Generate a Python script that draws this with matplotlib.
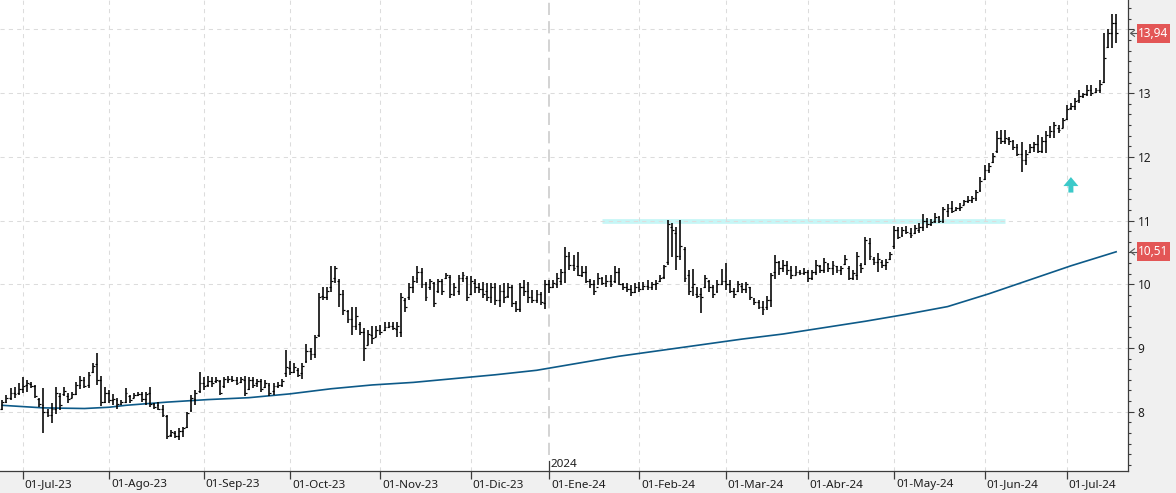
import numpy as np
import pandas as pd
import matplotlib
matplotlib.use("Agg")
import matplotlib.pyplot as plt
import matplotlib.transforms as mtransforms
from matplotlib.ticker import MultipleLocator, FixedLocator
from matplotlib.patches import Rectangle, Polygon
from matplotlib.lines import Line2D

plt.rcParams['font.family'] = ['Noto Sans', 'DejaVu Sans']

# ---------------- data ----------------
highs = [8.18, 8.26, 8.37, 8.39, 8.45, 8.55, 8.50, 8.47, 8.42, 8.21,
         8.37, 8.05, 8.13, 8.39, 8.29, 8.38, 8.29, 8.31, 8.47, 8.56,
         8.55, 8.63, 8.77, 8.92, 8.56, 8.39, 8.34, 8.28, 8.21, 8.19,
         8.37, 8.26, 8.29, 8.31, 8.31, 8.31, 8.39, 8.13, 8.16, 8.10,
         7.95, 7.71, 7.69, 7.74, 7.76, 8.00, 8.26, 8.34, 8.63, 8.55,
         8.56, 8.55, 8.55, 8.50, 8.55, 8.56, 8.56, 8.55, 8.55, 8.56,
         8.55, 8.55, 8.52, 8.51, 8.50, 8.45, 8.45, 8.47, 8.51, 8.97,
         8.79, 8.76, 8.68, 8.76, 9.07, 9.00, 9.21, 9.86, 9.95, 9.96,
         10.28, 10.28, 10.08, 9.91, 9.60, 9.65, 9.65, 9.41, 9.31, 9.28,
         9.34, 9.34, 9.36, 9.41, 9.41, 9.41, 9.41,
         9.86, 9.78, 10.02, 10.13, 10.29, 10.25, 10.04, 10.09, 10.04, 10.09,
         10.09, 10.18, 10.15, 10.02, 10.15, 10.20, 10.13, 10.13, 10.09, 10.02,
         10.04, 10.02, 10.02, 10.02, 9.99, 10.02, 10.02, 9.99, 9.73, 10.02,
         10.07, 10.04, 9.91, 9.91, 9.88, 10.07, 10.07, 10.07, 10.17, 10.24,
         10.59, 10.51, 10.46, 10.51, 10.28, 10.28, 10.09, 10.07, 10.17, 10.12,
         10.15, 10.15, 10.28, 10.25, 10.02, 10.02, 9.99, 10.02, 10.04, 10.04,
         10.07, 10.04, 10.07, 10.15, 10.30,
         11.01, 10.96, 10.90, 11.01, 10.59, 10.22,
         10.24, 9.95, 9.94, 10.15, 10.07, 9.99, 10.07, 10.24, 10.33, 10.07,
         9.94, 10.05, 10.02, 10.04, 9.96, 9.78, 9.75, 9.73, 9.81, 10.18,
         10.46, 10.36, 10.38, 10.36, 10.28, 10.28, 10.23, 10.25, 10.23, 10.23,
         10.38, 10.30, 10.41, 10.33, 10.36, 10.28, 10.28, 10.46, 10.28, 10.23,
         10.51, 10.33, 10.75, 10.72, 10.43, 10.49, 10.38, 10.39, 10.51, 10.91,
         10.90,
         10.90, 10.91, 10.88, 10.93, 10.96, 11.10, 11.04, 11.02, 11.12, 11.07,
         11.22, 11.26, 11.30, 11.22, 11.27, 11.32, 11.38, 11.39, 11.48, 11.68,
         11.87, 11.90, 12.06, 12.40, 12.42, 12.42, 12.32, 12.27, 12.21, 12.24,
         12.11, 12.21, 12.24, 12.35, 12.32, 12.40,
         12.48, 12.55, 12.50, 12.61, 12.82, 12.84, 12.92, 13.05, 13.00, 13.13,
         13.13, 13.08, 13.21, 13.94, 14.00, 14.24, 14.24]

lows = [8.03, 8.13, 8.18, 8.21, 8.26, 8.29, 8.31, 8.37, 8.21, 8.08,
        7.66, 7.92, 7.83, 7.97, 8.03, 8.24, 8.13, 8.21, 8.26, 8.35,
        8.37, 8.37, 8.60, 8.42, 8.09, 8.13, 8.13, 8.10, 8.05, 8.10,
        8.13, 8.13, 8.21, 8.24, 8.16, 8.10, 8.08, 8.05, 8.03, 7.92,
        7.57, 7.61, 7.58, 7.55, 7.61, 7.74, 8.00, 8.10, 8.29, 8.34,
        8.39, 8.39, 8.45, 8.26, 8.37, 8.45, 8.47, 8.42, 8.45, 8.24,
        8.34, 8.37, 8.39, 8.31, 8.37, 8.25, 8.26, 8.37, 8.39, 8.55,
        8.58, 8.60, 8.55, 8.52, 8.76, 8.81, 8.84, 9.18, 9.75, 9.75,
        9.88, 10.02, 9.65, 9.52, 9.39, 9.20, 9.28, 9.20, 8.79, 9.05,
        9.07, 9.18, 9.20, 9.26, 9.31, 9.29, 9.18,
        9.18, 9.57, 9.75, 9.86, 10.02, 9.94, 9.73, 9.91, 9.65, 9.86,
        9.83, 10.08, 9.78, 9.81, 9.83, 10.04, 9.73, 9.83, 9.86, 9.86,
        9.78, 9.73, 9.70, 9.68, 9.65, 9.70, 9.78, 9.65, 9.57, 9.57,
        9.81, 9.70, 9.70, 9.70, 9.68, 9.62, 9.86, 9.94, 9.94, 9.99,
        10.02, 10.23, 10.21, 10.13, 10.12, 10.02, 9.94, 9.83, 9.99, 9.99,
        9.96, 9.96, 10.02, 9.99, 9.91, 9.88, 9.81, 9.86, 9.88, 9.91,
        9.91, 9.91, 9.91, 10.04, 10.09,
        10.30, 10.43, 10.22, 10.38, 10.04, 9.83,
        9.81, 9.78, 9.55, 9.94, 9.88, 9.78, 9.86, 9.99, 9.91, 9.86,
        9.78, 9.88, 9.86, 9.86, 9.75, 9.68, 9.62, 9.52, 9.60, 9.65,
        10.09, 10.15, 10.20, 10.15, 10.09, 10.15, 10.15, 10.15, 10.04, 10.07,
        10.15, 10.17, 10.17, 10.20, 10.15, 10.17, 10.15, 10.30, 10.07, 10.07,
        10.07, 10.17, 10.30, 10.38, 10.30, 10.20, 10.25, 10.23, 10.38, 10.55,
        10.71,
        10.75, 10.79, 10.72, 10.79, 10.81, 10.83, 10.88, 10.91, 10.96, 10.96,
        10.96, 11.06, 11.12, 11.15, 11.15, 11.25, 11.27, 11.27, 11.30, 11.45,
        11.64, 11.74, 11.90, 12.06, 12.21, 12.21, 12.19, 12.11, 12.01, 11.77,
        11.87, 12.06, 12.08, 12.06, 12.06, 12.06,
        12.29, 12.29, 12.38, 12.45, 12.58, 12.74, 12.74, 12.84, 12.92, 12.95,
        12.95, 13.00, 13.00, 13.16, 13.71, 13.71, 13.79]

opens = [8.05, 8.15, 8.22, 8.30, 8.30, 8.35, 8.42, 8.43, 8.40, 8.20,
         8.10, 8.00, 7.95, 8.05, 8.25, 8.28, 8.25, 8.22, 8.28, 8.42,
         8.50, 8.42, 8.62, 8.75, 8.50, 8.15, 8.30, 8.18, 8.18, 8.12,
         8.15, 8.25, 8.22, 8.26, 8.28, 8.20, 8.30, 8.12, 8.10, 8.05,
         7.93, 7.63, 7.66, 7.62, 7.70, 7.76, 8.02, 8.20, 8.32, 8.45,
         8.42, 8.48, 8.48, 8.48, 8.40, 8.50, 8.52, 8.50, 8.46, 8.50,
         8.35, 8.50, 8.45, 8.48, 8.38, 8.42, 8.32, 8.40, 8.42, 8.60,
         8.68, 8.62, 8.65, 8.60, 8.80, 8.95, 8.90, 9.20, 9.82, 9.80,
         9.95, 10.10, 10.05, 9.85, 9.58, 9.45, 9.35, 9.38, 9.25, 9.05,
         9.20, 9.18, 9.28, 9.28, 9.33, 9.35, 9.30,
         9.25, 9.75, 9.80, 9.95, 10.10, 10.20, 10.00, 9.95, 10.02, 9.90,
         10.05, 10.10, 10.12, 9.85, 9.90, 10.10, 10.10, 9.85, 10.02, 9.95,
         9.92, 9.90, 9.80, 9.95, 9.75, 9.90, 9.82, 9.95, 9.70, 9.62,
         9.95, 9.90, 9.80, 9.75, 9.85, 9.70, 10.00, 9.96, 10.00, 10.05,
         10.20, 10.45, 10.30, 10.28, 10.15, 10.20, 10.05, 10.00, 9.95, 10.10,
         10.02, 10.05, 10.05, 10.20, 10.00, 9.95, 9.92, 9.88, 9.95, 9.92,
         9.98, 9.95, 10.00, 10.05, 10.12,
         10.35, 10.90, 10.80, 10.45, 10.55, 10.15,
         9.95, 9.85, 9.85, 9.95, 10.05, 9.95, 9.90, 10.00, 10.05, 10.00,
         9.90, 9.90, 9.98, 9.92, 9.95, 9.75, 9.72, 9.65, 9.65, 9.75,
         10.20, 10.35, 10.25, 10.30, 10.22, 10.15, 10.20, 10.18, 10.20, 10.10,
         10.20, 10.28, 10.22, 10.32, 10.25, 10.28, 10.22, 10.32, 10.25, 10.10,
         10.15, 10.30, 10.32, 10.65, 10.40, 10.35, 10.35, 10.30, 10.40, 10.60,
         10.85,
         10.78, 10.85, 10.80, 10.80, 10.85, 10.90, 11.00, 10.95, 11.00, 11.05,
         11.00, 11.15, 11.20, 11.16, 11.20, 11.25, 11.30, 11.32, 11.35, 11.48,
         11.65, 11.80, 11.92, 12.10, 12.30, 12.25, 12.28, 12.25, 12.15, 12.05,
         11.95, 12.08, 12.15, 12.20, 12.10, 12.25,
         12.35, 12.40, 12.45, 12.45, 12.60, 12.76, 12.80, 12.90, 12.95, 12.98,
         13.05, 13.02, 13.05, 13.18, 13.72, 13.95, 14.10]

closes = [8.15, 8.22, 8.30, 8.28, 8.35, 8.40, 8.45, 8.40, 8.25, 8.12,
          8.00, 7.95, 8.05, 8.30, 8.10, 8.33, 8.20, 8.28, 8.42, 8.50,
          8.40, 8.58, 8.72, 8.50, 8.15, 8.30, 8.18, 8.20, 8.12, 8.15,
          8.30, 8.18, 8.26, 8.28, 8.20, 8.28, 8.12, 8.08, 8.05, 7.95,
          7.62, 7.68, 7.62, 7.70, 7.74, 7.98, 8.22, 8.30, 8.45, 8.40,
          8.48, 8.45, 8.50, 8.30, 8.52, 8.52, 8.50, 8.45, 8.52, 8.30,
          8.50, 8.42, 8.48, 8.35, 8.45, 8.30, 8.40, 8.42, 8.48, 8.70,
          8.62, 8.70, 8.58, 8.72, 8.95, 8.90, 9.18, 9.80, 9.80, 9.90,
          10.05, 10.25, 9.85, 9.60, 9.45, 9.35, 9.50, 9.25, 9.00, 9.22,
          9.15, 9.28, 9.25, 9.33, 9.35, 9.32, 9.35,
          9.80, 9.65, 9.95, 10.05, 10.20, 10.00, 9.80, 10.05, 9.70, 10.05,
          9.90, 10.15, 9.85, 9.95, 10.10, 10.15, 9.80, 10.05, 9.95, 9.92,
          9.85, 9.80, 9.95, 9.75, 9.90, 9.80, 9.95, 9.70, 9.62, 9.95,
          9.90, 9.80, 9.75, 9.85, 9.72, 10.00, 9.95, 10.02, 10.10, 10.20,
          10.45, 10.30, 10.25, 10.15, 10.20, 10.05, 10.00, 9.90, 10.10, 10.02,
          10.05, 10.00, 10.20, 10.00, 9.95, 9.92, 9.88, 9.95, 9.92, 9.98,
          9.95, 10.00, 10.02, 10.10, 10.28,
          10.95, 10.85, 10.45, 10.60, 10.10, 9.90,
          10.00, 9.82, 9.80, 10.10, 9.95, 9.85, 10.00, 10.05, 10.00, 9.90,
          9.85, 10.00, 9.92, 10.00, 9.80, 9.72, 9.65, 9.62, 9.75, 10.15,
          10.35, 10.25, 10.30, 10.22, 10.15, 10.20, 10.18, 10.20, 10.10, 10.20,
          10.30, 10.22, 10.35, 10.25, 10.30, 10.22, 10.25, 10.40, 10.10, 10.18,
          10.45, 10.25, 10.70, 10.45, 10.35, 10.40, 10.30, 10.35, 10.48, 10.85,
          10.75,
          10.85, 10.82, 10.78, 10.88, 10.90, 11.00, 10.95, 10.98, 11.05, 11.00,
          11.18, 11.20, 11.15, 11.20, 11.22, 11.30, 11.32, 11.35, 11.45, 11.62,
          11.80, 11.85, 12.02, 12.30, 12.25, 12.30, 12.25, 12.15, 12.05, 11.95,
          12.05, 12.15, 12.20, 12.10, 12.25, 12.35,
          12.40, 12.50, 12.42, 12.58, 12.75, 12.80, 12.88, 12.95, 12.98, 13.05,
          13.00, 13.05, 13.15, 13.55, 13.95, 14.10, 13.94]

# long moving average, read at selected bars
ma_bars = [0, 10, 20, 26, 30, 40, 50, 60, 70, 80, 90, 100, 110, 120, 130,
           140, 150, 160, 170, 180, 190, 200, 210, 220, 230, 240, 250, 260, 271]
ma_vals = [8.10, 8.06, 8.05, 8.07, 8.10, 8.15, 8.19, 8.22, 8.28, 8.36, 8.42,
           8.46, 8.52, 8.58, 8.65, 8.76, 8.87, 8.96, 9.05, 9.14, 9.22, 9.32,
           9.42, 9.53, 9.65, 9.85, 10.07, 10.29, 10.51]

last_price = 13.94
last_ma = 10.51
resistance_level = 11.0
resistance_from, resistance_to = 146, 244
signal_bar, signal_level = 260, 11.44

y_ticks = [8, 9, 10, 11, 12, 13, 14]
y_tick_labels = ['8', '9', '10', '11', '12', '13', '']

month_abbr = ['Ene', 'Feb', 'Mar', 'Abr', 'May', 'Jun', 'Jul', 'Ago',
              'Sep', 'Oct', 'Nov', 'Dic']
holidays = ['2023-12-25', '2023-12-26', '2024-01-01', '2024-03-29',
            '2024-04-01', '2024-05-01']

# ---------------- calendar ----------------
n = len(highs)
days = pd.bdate_range('2023-06-26', '2024-09-30')
days = days[~days.isin(pd.to_datetime(holidays))][:n]
x = np.arange(n)

month_pos, month_lab = [], []
for i in range(1, n):
    if days[i].month != days[i - 1].month:
        month_pos.append(i)
        month_lab.append('01-%s-%s' % (month_abbr[days[i].month - 1],
                                        days[i].strftime('%y')))
year_pos = [i for i in range(1, n) if days[i].year != days[i - 1].year]

# ---------------- figure ----------------
W, H = 1176, 493
fig = plt.figure(figsize=(W / 100, H / 100), dpi=100, facecolor='#f0f0f0')
ax_l, ax_r, ax_t, ax_b = 0, 1128, 0, 471
ax = fig.add_axes([ax_l / W, (H - ax_b) / H, (ax_r - ax_l) / W, (ax_b - ax_t) / H])
ax.set_facecolor('white')

px_per_bar = 4.11
x0_px = 2.3
ylo, yhi = 7.069, 14.463
ax.set_xlim((0 - x0_px) / px_per_bar, (ax_r - x0_px) / px_per_bar)
ax.set_ylim(ylo, yhi)

# grid
for v in y_ticks:
    ax.axhline(v, color='#dcdcdc', lw=0.75, ls=(0, (4, 4)), zorder=0.5)
for p in month_pos:
    if p in year_pos:
        continue
    ax.axvline(p, color='#dcdcdc', lw=0.75, ls=(0, (4, 4)), zorder=0.5)
for p in year_pos:
    ax.axvline(p, ymin=(471 - 455) / 471, color='#c8c8c8', lw=1.1,
               ls=(0, (8, 4)), zorder=0.5)

# resistance band
ax.plot([resistance_from, resistance_to], [resistance_level] * 2,
        color='#c6f6f6', lw=3.4, solid_capstyle='butt', zorder=0.4)

# OHLC bars
ax.vlines(x, lows, highs, color='black', lw=1.15, zorder=3)
ax.hlines(opens, x - 0.45, x, color='black', lw=0.85, zorder=3)
ax.hlines(closes, x, x + 0.45, color='black', lw=0.85, zorder=3)

# moving average
ax.plot(ma_bars, ma_vals, color='#0d5a88', lw=1.2, zorder=2.5)

# signal arrow (pixel-shaped polygon at a data anchor)
dxp = 1 / px_per_bar
dyp = (yhi - ylo) / 471
shape = [(0, 0), (7.5, -9), (2.5, -9), (2.5, -15.5), (-2.5, -15.5),
         (-2.5, -9), (-7.5, -9)]
top_v = signal_level + 15.5 * dyp
arrow = Polygon([(signal_bar + sx * dxp, top_v + sy * dyp) for sx, sy in shape],
                closed=True, facecolor='#3cc9c9', edgecolor='none', zorder=4)
ax.add_patch(arrow)

# spines
for s in ['top', 'left']:
    ax.spines[s].set_visible(False)
for s in ['bottom', 'right']:
    ax.spines[s].set_color('#3c3c3c')
    ax.spines[s].set_linewidth(0.9)

# y axis on the right
ax.yaxis.tick_right()
ax.yaxis.set_major_locator(FixedLocator(y_ticks))
ax.yaxis.set_minor_locator(MultipleLocator(1 / 6))
ax.tick_params(axis='y', which='major', length=4.3, width=0.8, color='#3c3c3c',
               labelsize=8.5, labelcolor='#1e1e1e', pad=2.5, left=False)
ax.tick_params(axis='y', which='minor', length=2.2, width=0.8, color='#3c3c3c',
               left=False)
ax.set_yticklabels(y_tick_labels)

# x axis: month ticks, labels left-aligned after the tick
ax.set_xticks(month_pos)
ax.tick_params(axis='x', which='major', length=6, width=0.9, color='#3c3c3c',
               labelbottom=False, direction='out')
trans = mtransforms.blended_transform_factory(ax.transData, ax.transAxes)
for p, lab in zip(month_pos, month_lab):
    off = mtransforms.ScaledTranslation(2 / 100, -16.5 / 100, fig.dpi_scale_trans)
    ax.text(p, 0, lab, transform=trans + off, ha='left', va='baseline',
            fontsize=8.4, color='#1e1e1e', clip_on=False)
for p in year_pos:
    ax.add_line(Line2D([p, p], [0, 10 / 471], transform=trans, color='#3c3c3c',
                       lw=0.9, clip_on=False, zorder=5))
    off = mtransforms.ScaledTranslation(2 / 100, 4 / 100, fig.dpi_scale_trans)
    ax.text(p, 0, str(days[p].year), transform=trans + off, ha='left',
            va='baseline', fontsize=8.4, color='#1e1e1e')

# price tags on the right axis
fig.canvas.draw()
for val in [last_price, last_ma]:
    yc = ax.transData.transform((0, val))[1]
    fig.add_artist(Rectangle((1137, yc - 9.5), 33, 19, transform=None,
                             facecolor='#e35656', edgecolor='none', zorder=10))
    fig.text(1153.5, yc, ('%.2f' % val).replace('.', ','), transform=None,
             ha='center', va='center', fontsize=8.5, color='white', zorder=11)
    fig.add_artist(Line2D([1134.5, 1130.5, 1134.5], [yc + 3, yc, yc - 3],
                          transform=None, color='#555555', lw=0.8, zorder=11))
    fig.add_artist(Line2D([1130.5, 1135.5], [yc, yc], transform=None,
                          color='#555555', lw=0.8, zorder=11))

fig.savefig('out.png', dpi=100, facecolor=fig.get_facecolor())
